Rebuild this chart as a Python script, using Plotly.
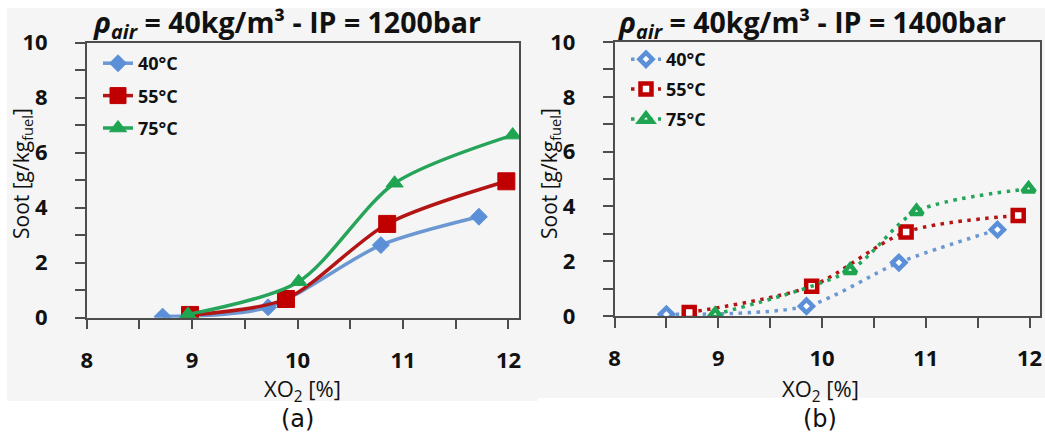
import plotly.graph_objects as go

# ---- data ----
series_names = ["40°C", "55°C", "75°C"]

# panel (a): IP = 1200 bar
a_x_40 = [8.72, 9.72, 10.79, 11.72]
a_y_40 = [0.04, 0.38, 2.64, 3.67]
a_x_55 = [8.98, 9.89, 10.85, 11.98]
a_y_55 = [0.10, 0.68, 3.41, 4.96]
a_x_75 = [8.96, 10.01, 10.92, 12.04]
a_y_75 = [0.12, 1.31, 4.89, 6.64]

# panel (b): IP = 1400 bar
b_x_40 = [8.50, 9.85, 10.74, 11.69]
b_y_40 = [0.06, 0.36, 1.95, 3.15]
b_x_55 = [8.72, 9.90, 10.81, 11.89]
b_y_55 = [0.13, 1.09, 3.07, 3.67]
b_x_75 = [8.97, 10.27, 10.91, 11.99]
b_y_75 = [0.06, 1.67, 3.82, 4.64]

x_ticks = [8, 9, 10, 11, 12]
y_ticks = [0, 2, 4, 6, 8, 10]

title_a = "<b><i>ρ<sub>air</sub></i> = 40kg/m³ - IP = 1200bar</b>"
title_b = "<b><i>ρ<sub>air</sub></i> = 40kg/m³ - IP = 1400bar</b>"
y_title = "Soot [g/kg<sub>fuel</sub>]"
x_title = "XO<sub>2</sub> [%]"

# ---- styles ----
W, H = 1045, 432
BLUE, BLUE_L = "#5b8fd8", "#6b98d2"
RED, RED_L = "#c00000", "#b31515"
GREEN, GREEN_L = "#1fa552", "#25a45a"
FONT = "Open Sans"
AX = "#4d4d4d"

def px(x):
    return x / W

def py(y):
    return 1 - y / H

fig = go.Figure()

a_sets = [(a_x_40, a_y_40, BLUE, BLUE_L, "diamond", 13),
          (a_x_55, a_y_55, RED, RED_L, "square", 17),
          (a_x_75, a_y_75, GREEN, GREEN_L, "triangle-up", 15)]
for name, (xs, ys, mc, lc, sym, sz) in zip(series_names, a_sets):
    fig.add_trace(go.Scatter(
        x=xs, y=ys, name=name, mode="lines+markers",
        line=dict(color=lc, width=3.5, shape="spline", smoothing=0.8),
        marker=dict(color=mc, symbol=sym, size=sz, line=dict(color=mc, width=1)),
        xaxis="x", yaxis="y", legend="legend", legendgroup="a" + name))

b_sets = [(b_x_40, b_y_40, BLUE, BLUE_L, "diamond", 10),
          (b_x_55, b_y_55, RED, RED_L, "square", 11),
          (b_x_75, b_y_75, GREEN, GREEN_L, "triangle-up", 11)]
for name, (xs, ys, mc, lc, sym, sz) in zip(series_names, b_sets):
    fig.add_trace(go.Scatter(
        x=xs, y=ys, name=name, mode="lines+markers",
        line=dict(color=lc, width=3.5, shape="spline", smoothing=0.8, dash="3.5px,5.5px"),
        marker=dict(color="white", symbol=sym, size=sz, line=dict(color=mc, width=4.5)),
        xaxis="x2", yaxis="y2", legend="legend2", legendgroup="b" + name))

axis_common = dict(
    showline=True, linecolor=AX, linewidth=1.5, mirror=True,
    showgrid=False, zeroline=False, automargin=False,
    ticks="outside", ticklen=10, tickwidth=1.5, tickcolor=AX,
    tickfont=dict(family=FONT, size=22, color="#111111", weight="bold"),
)
x_minor = dict(dtick=0.5, ticks="outside", ticklen=10, tickwidth=1.5, tickcolor=AX, showgrid=False)
y_minor = dict(dtick=1, ticks="outside", ticklen=10, tickwidth=1.5, tickcolor=AX, showgrid=False)

fig.update_layout(
    width=W, height=H, autosize=False,
    margin=dict(l=0, r=0, t=0, b=0, autoexpand=False),
    paper_bgcolor="white", plot_bgcolor="rgba(0,0,0,0)",
    font=dict(family=FONT, color="#111111"),
    xaxis=dict(axis_common, domain=[px(86.7), px(519)], range=[8, 12.1],
               tickvals=x_ticks, minor=x_minor, anchor="y", ticklabelstandoff=12),
    yaxis=dict(axis_common, domain=[py(317.7), py(42.7)], range=[0, 10],
               tickvals=y_ticks, minor=y_minor, anchor="x", ticklabelstandoff=23),
    xaxis2=dict(axis_common, domain=[px(614.5), px(1040)], range=[8, 12.1],
                tickvals=x_ticks, minor=x_minor, anchor="y2", ticklabelstandoff=12),
    yaxis2=dict(axis_common, domain=[py(316), py(42)], range=[0, 10],
                tickvals=y_ticks, minor=y_minor, anchor="x2", ticklabelstandoff=23),
    legend=dict(x=px(98), y=py(45), xanchor="left", yanchor="top",
                bgcolor="rgba(0,0,0,0)", tracegroupgap=6,
                font=dict(family=FONT, size=18, color="#111111", weight="bold")),
    legend2=dict(x=px(626), y=py(41), xanchor="left", yanchor="top",
                 bgcolor="rgba(0,0,0,0)", tracegroupgap=3.5,
                 font=dict(family=FONT, size=18, color="#111111", weight="bold")),
    showlegend=True,
)

fig.add_shape(type="rect", xref="paper", yref="paper", x0=px(7), x1=px(538),
              y0=py(401), y1=py(8), fillcolor="#f5f5f5", line_width=0, layer="below")
fig.add_shape(type="rect", xref="paper", yref="paper", x0=px(538), x1=px(1045),
              y0=py(398), y1=py(8), fillcolor="#f5f5f5", line_width=0, layer="below")

ann = [
    (287, 24, title_a, 28.5, "bold", 0, FONT),
    (812, 24, title_b, 28.5, "bold", 0, FONT),
    (22, 174, y_title, 21, "normal", -90, FONT),
    (550, 174, y_title, 21, "normal", -90, FONT),
    (302, 390, x_title, 22, "normal", 0, FONT),
    (820, 390, x_title, 22, "normal", 0, FONT),
    (297, 419, "(a)", 24, "normal", 0, "DejaVu Sans"),
    (820, 419, "(b)", 24, "normal", 0, "DejaVu Sans"),
]
for x, y, t, s, w, ang, fam in ann:
    fig.add_annotation(x=px(x), y=py(y), xref="paper", yref="paper", text=t,
                       showarrow=False, textangle=ang, xanchor="center", yanchor="middle",
                       font=dict(family=fam, size=s, color="#111111", weight=w))

fig.write_html("out.html")
